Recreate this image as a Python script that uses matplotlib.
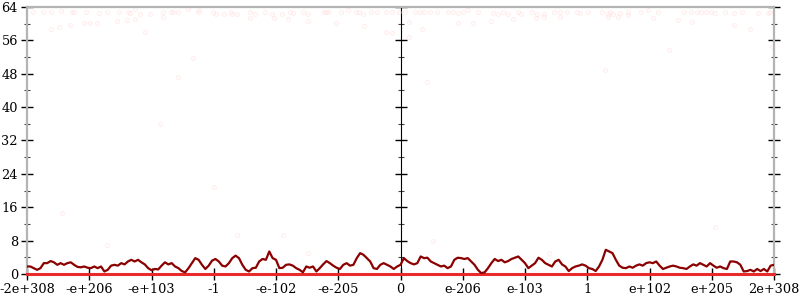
import numpy as np
import matplotlib
matplotlib.use('Agg')
import matplotlib.pyplot as plt

# tick labels along x (evenly spaced in the ordered-float axis)
x_labels = ['-2e+308', '-e+206', '-e+103', '-1', '-e-102', '-e-205', '0',
            'e-206', 'e-103', '1', 'e+102', 'e+205', '2e+308']
x_ticks = list(range(-6, 7))
y_ticks = [0, 8, 16, 24, 32, 40, 48, 56, 64]

# dark red curve: count per bin, left to right
counts = [
    1.8, 1.8, 1.4, 1.0, 1.4, 2.6, 2.6, 3.1, 2.8, 2.2, 2.6, 2.2, 2.6, 2.8, 2.2, 1.7,
    1.6, 1.8, 1.5, 1.4, 1.8, 1.4, 1.8, 0.6, 1.0, 2.0, 2.2, 2.0, 2.6, 2.3, 3.0, 3.4,
    3.0, 3.4, 2.8, 2.3, 1.4, 0.9, 1.2, 1.1, 2.0, 2.8, 2.3, 2.6, 1.8, 1.4, 0.7, 0.4,
    1.4, 2.6, 3.8, 3.4, 2.2, 1.2, 2.0, 3.2,
    3.6, 3.0, 2.0, 1.8, 2.6, 3.8, 4.4, 3.8, 2.2, 1.0, 0.6, 1.4, 1.5, 3.0, 3.6, 3.4,
    5.4, 3.8, 3.4, 1.4, 1.5, 2.2, 2.3, 2.0, 1.4, 1.0, 0.4, 1.8, 1.5, 1.8, 0.6, 1.4,
    2.3, 3.1, 2.6, 2.0, 1.5, 1.2, 2.2, 2.6, 2.0, 2.2, 3.8, 5.0, 4.6, 3.8, 3.0, 1.4,
    1.2, 2.2, 2.6, 2.2, 1.8, 1.2, 1.8, 2.2, 3.8,
    3.1, 2.6, 2.3, 2.6, 4.2, 3.8, 3.9, 3.0, 2.6, 2.2, 1.8, 2.0, 1.4, 1.8, 3.4, 3.9,
    3.8, 3.6, 3.8, 3.0, 2.2, 1.0, 0.2, 0.4, 1.4, 2.6, 3.6, 3.1, 3.4, 2.8, 3.1, 3.6,
    3.9, 4.2, 3.4, 2.6, 1.4, 2.0, 2.6, 3.9, 3.4, 2.6, 2.2, 1.8, 3.0, 3.4, 2.3, 1.8,
    0.7, 1.4, 1.8, 2.0, 2.3, 2.0, 1.4, 1.2,
    0.7, 1.8, 3.4, 5.8, 5.4, 5.0, 3.4, 2.0, 1.5, 1.4, 1.8, 1.5, 2.0, 2.3, 2.0, 2.6,
    2.8, 2.6, 3.0, 2.0, 1.2, 1.5, 1.8, 2.0, 1.8, 1.5, 1.4, 1.2, 1.8, 2.3, 2.0, 2.6,
    2.2, 1.8, 2.6, 2.0, 1.5, 1.8, 1.4, 1.2, 3.0, 3.0, 2.8, 2.2, 0.6, 0.7, 1.0, 0.6,
    1.2, 0.7, 1.2, 0.6, 2.0, 2.2,
]
baseline = 0

# faint pink samples
pts_x = [
    -5.90, -5.75, -5.62, -5.46, -5.27, -5.24, -5.06, -4.85, -4.71, -4.53, -4.37, -4.34,
    -4.26, -4.18, -4.02, -3.82, -3.69, -3.66, -3.58, -3.42, -3.26, -3.24, -3.02, -2.97,
    -2.84, -2.73, -2.70, -2.62, -2.41, -2.33, -2.17, -2.06, -1.90, -1.77, -1.72, -1.57,
    -1.49, -1.25, -1.20, -1.16, -0.96, -0.85, -0.72, -0.67, -0.61, -0.48, -0.37, -0.24,
    -0.13, -0.03,
    0.08, 0.24, 0.32, 0.37, 0.48, 0.59, 0.76, 0.85, 0.93, 1.00, 1.09, 1.24, 1.49, 1.56,
    1.65, 1.72, 1.88, 1.93, 2.12, 2.20, 2.30, 2.46, 2.57, 2.68, 2.84, 2.89, 3.02, 3.24,
    3.33, 3.37, 3.42, 3.53, 3.65, 3.86, 3.98, 4.13, 4.55, 4.66, 4.77, 4.82, 4.90, 4.98,
    5.06, 5.22, 5.35, 5.49, 5.75, 5.90, 5.94,
    -5.62, -5.49, -5.31, -5.09, -4.99, -4.87, -4.55, -4.39, -4.26, -4.10, -3.82, -2.41,
    -2.04, -1.80, -1.48, -1.04, -0.59, -0.24, -0.14,
    0.13, 0.13, 0.35, 0.93, 1.16, 1.46, 1.81, 2.17, 2.30, 2.57, 3.33, 3.50, 3.66, 4.05,
    4.45, 4.69, 5.35, 5.62, 5.97,
    -3.57, -3.33, 3.29, 0.43, 4.31, -5.43, -3.00, -3.86, -4.71, -2.62, -1.88, -1.48,
    0.53, 5.06, 2.39,
]
pts_y = [
    62.8, 62.8, 62.9, 63.0, 62.8, 62.8, 62.9, 62.6, 62.8, 62.7, 62.8, 62.6,
    63.5, 62.4, 62.2, 62.7, 62.9, 62.9, 62.8, 63.6, 62.9, 63.3, 62.9, 62.2,
    62.3, 62.9, 62.4, 62.2, 62.8, 62.4, 62.9, 62.4, 62.2, 62.8, 62.6, 62.9,
    62.4, 62.7, 62.8, 62.7, 62.7, 63.3, 62.7, 62.9, 62.2, 62.8, 62.9, 62.8,
    62.8, 62.9,
    62.8, 62.8, 62.8, 62.8, 62.8, 62.8, 62.8, 62.8, 62.6, 62.8, 63.2, 62.8, 62.6, 62.4,
    62.8, 62.4, 62.8, 62.4, 62.8, 62.4, 62.4, 62.8, 62.8, 62.8, 62.8, 62.6, 62.8, 62.8,
    62.2, 62.8, 62.4, 62.6, 62.8, 62.8, 63.3, 62.8, 62.8, 62.8, 62.8, 62.8, 62.8, 62.8,
    62.6, 62.8, 62.6, 62.8, 62.6, 62.6, 62.8,
    58.8, 59.2, 59.7, 60.2, 60.2, 60.2, 60.7, 60.9, 61.1, 58.0, 61.6, 61.3,
    61.3, 61.1, 60.7, 60.2, 59.5, 58.0, 57.8,
    60.4, 56.8, 58.8, 60.2, 60.2, 60.7, 61.1, 61.3, 61.6, 61.6, 61.6, 61.6, 62.0, 61.3,
    60.9, 60.4, 59.7, 58.8, 54.4,
    47.2, 51.8, 48.9, 46.0, 53.7, 14.6, 20.9, 36.0, 7.0, 9.4, 9.4, 5.0,
    8.0, 11.3, 5.0,
]

plt.rcParams['font.family'] = 'DejaVu Serif'
fig = plt.figure(figsize=(8, 3), dpi=100)
ax = fig.add_axes([0.03375, 0.0867, 0.93375, 0.89])

gray = '#b4b4b4'
bins = np.linspace(-6, 6, len(counts))

ax.scatter(pts_x, pts_y, s=9, facecolors='#fff4f4', edgecolors='#ffcccc',
           linewidths=0.7, alpha=0.3, zorder=2, clip_on=False)
ax.axhline(baseline, color='#e82a2a', lw=2.2, zorder=3, clip_on=False)
ax.plot(bins, counts, color='#8b0000', lw=1.6, zorder=4)

ax.set_xlim(-6, 6)
ax.set_ylim(0, 64)

for side in ['left', 'right', 'top']:
    ax.spines[side].set_color(gray)
    ax.spines[side].set_linewidth(1.6)
ax.spines['bottom'].set_visible(False)

ax.set_xticks(x_ticks)
ax.set_xticklabels(x_labels)
ax.set_yticks(y_ticks)
ax.set_yticks(range(4, 64, 8), minor=True)
ax.tick_params(axis='both', which='major', direction='inout', length=9, width=1,
               color='black', labelsize=9.3, pad=2)
ax.tick_params(axis='y', which='both', right=True)
ax.tick_params(axis='y', which='minor', direction='inout', length=4, width=0.8,
               color='#444444')

# centre axis at zero
mid = ax.secondary_yaxis(0.5)
mid.spines['left'].set_color(gray)
mid.spines['left'].set_linewidth(1.6)
mid.set_yticks(y_ticks)
mid.set_yticks(range(4, 64, 8), minor=True)
mid.set_yticklabels([])
mid.tick_params(which='major', direction='inout', length=8, width=1, color='black')
mid.tick_params(which='minor', direction='inout', length=4, width=0.8, color='#444444')

fig.savefig('out.png', dpi=100)
